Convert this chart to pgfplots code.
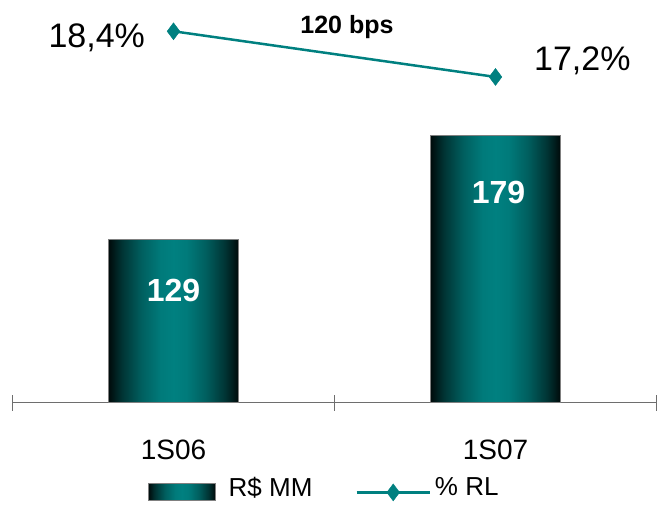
\documentclass[border=0pt]{standalone}
\usepackage{pgfplots}
\pgfplotsset{compat=1.18}
\usepackage{fontspec}
\setmainfont{Liberation Sans}
\definecolor{tealc}{RGB}{0,128,128}
\definecolor{axgray}{RGB}{110,110,110}
\pgfdeclarehorizontalshading{barshade}{100bp}{%
  rgb(0bp)=(0,0.04,0.04);
  rgb(25bp)=(0,0.04,0.04);
  rgb(27.5bp)=(0,0.12,0.12);
  rgb(30bp)=(0,0.2,0.2);
  rgb(37.5bp)=(0,0.37,0.37);
  rgb(45bp)=(0,0.48,0.48);
  rgb(50bp)=(0,0.502,0.502);
  rgb(55bp)=(0,0.48,0.48);
  rgb(62.5bp)=(0,0.37,0.37);
  rgb(70bp)=(0,0.2,0.2);
  rgb(72.5bp)=(0,0.12,0.12);
  rgb(75bp)=(0,0.04,0.04);
  rgb(100bp)=(0,0.04,0.04)}
\begin{document}
\begin{tikzpicture}
\useasboundingbox (0,0) rectangle (658pt,504pt);
\begin{axis}[
  at={(12.5pt,101.3pt)}, anchor=south west,
  scale only axis, width=644pt, height=402.7pt,
  xmin=-0.5, xmax=1.5, ymin=50.67, ymax=243.9,
  axis y line=none, axis x line=bottom,
  axis line style={-, axgray, line width=0.8pt},
  xtick={-0.5,0.5,1.5}, xticklabels={,,},
  major tick length=16pt, tick align=center,
  tick style={axgray, line width=0.8pt},
  extra x ticks={0,1}, extra x tick labels={1S06,1S07},
  extra x tick style={tick style={draw=none}},
  xticklabel style={anchor=base, yshift=-49pt, font=\fontsize{28}{34}\selectfont},
  ytick=\empty,
  clip mode=individual,
  barstyle/.style={ybar, bar width=130pt, bar shift=0pt, draw=black!50, line width=0.7pt,
    shade, shading=barshade},
]
\addplot[barstyle] coordinates {(0,129)};
\addplot[barstyle] coordinates {(1,179)};
\node[anchor=base, text=white, font=\bfseries\fontsize{32}{38}\selectfont, yshift=-62.4pt] at (axis cs:0,129) {129};
\node[anchor=base, text=white, font=\bfseries\fontsize{32}{38}\selectfont, yshift=-68.3pt, xshift=3pt] at (axis cs:1,179) {179};
\end{axis}
\begin{axis}[
  at={(12.5pt,101.3pt)}, anchor=south west,
  scale only axis, width=644pt, height=402.7pt,
  xmin=-0.5, xmax=1.5, ymin=8.639, ymax=19.222,
  hide axis, clip=false,
  legend image code/.code={\draw[#1, mark repeat=2, mark phase=2] plot coordinates {(0pt,-5pt) (36.5pt,-5pt) (73pt,-5pt)};},
  legend columns=-1,
  legend style={at={(0.2104,-0.2143)}, anchor=west, draw=none, fill=none,
    inner sep=0pt, outer sep=0pt, nodes={inner sep=0pt},
    font=\fontsize{26}{31}\selectfont,
    /tikz/column 1/.style={column sep=13pt},
    /tikz/column 2/.style={column sep=43pt},
    /tikz/column 3/.style={column sep=4pt}},
]
\addlegendimage{legend image code/.code={\shade[draw=black!50, line width=0.7pt, shading=barshade] (0pt,-13pt) rectangle (67pt,4pt);}}
\addlegendentry{R\$ MM}
\addplot[tealc, line width=2.5pt, mark=diamond*, mark size=8.5pt,
  mark options={solid, fill=tealc, line width=0.4pt}]
  coordinates {(0,18.4) (1,17.2)};
\addlegendentry{\% RL}
\node[anchor=base, font=\fontsize{34}{40}\selectfont] at (axis cs:-0.2385,17.972) {18,4\%};
\node[anchor=base, font=\fontsize{34}{40}\selectfont] at (axis cs:1.2696,17.376) {17,2\%};
\node[anchor=base, font=\bfseries\fontsize{25}{30}\selectfont] at (axis cs:0.5388,18.339) {120 bps};
\end{axis}
\end{tikzpicture}
\end{document}
